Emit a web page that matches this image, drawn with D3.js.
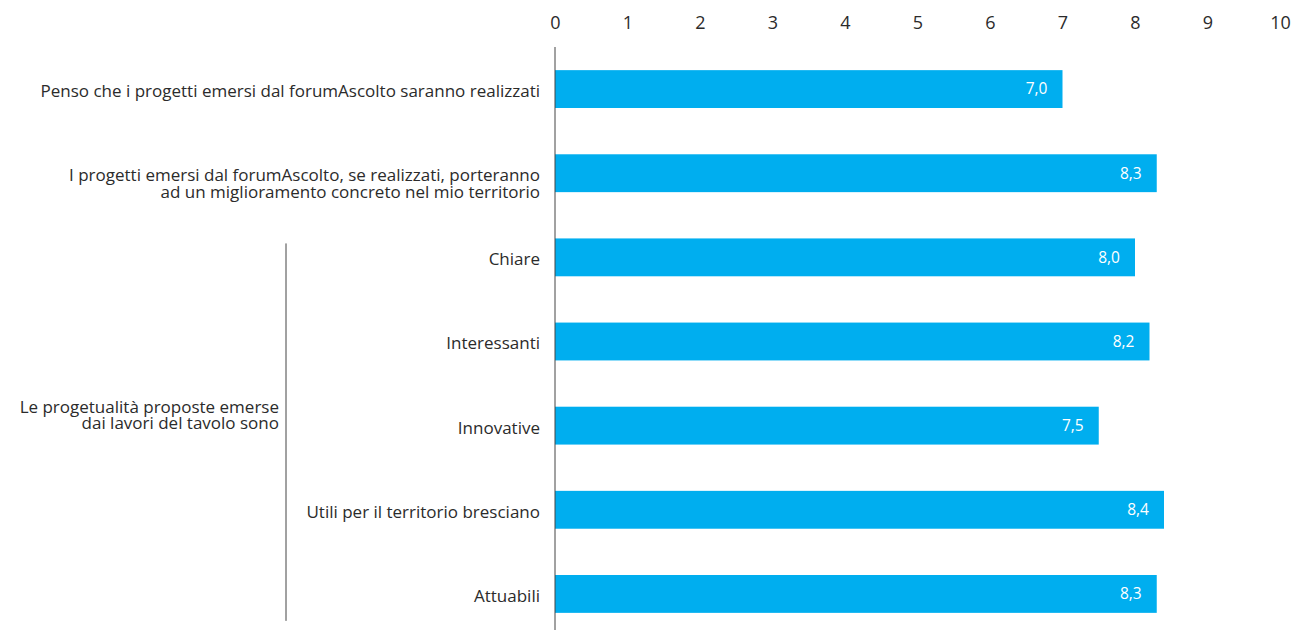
<!DOCTYPE html>
<html>
  <head>
    <title>forumAscolto</title>
    <style>
      body {
        margin: 0px;
        overflow: hidden;
        background: #fff;
      }
      text { font-family: "Open Sans", Lato, sans-serif; }
    </style>
    <script src="https://d3js.org/d3.v7.min.js"></script>
  </head>
  <body>

    <svg width="1305" height="630"></svg>

    <script>
      // data
      const categories = [
        'Penso che i progetti emersi dal forumAscolto saranno realizzati',
        'I progetti emersi dal forumAscolto, se realizzati, porteranno|ad un miglioramento concreto nel mio territorio',
        'Chiare',
        'Interessanti',
        'Innovative',
        'Utili per il territorio bresciano',
        'Attuabili'
      ];
      const values = [7.0, 8.3, 8.0, 8.2, 7.5, 8.4, 8.3];
      const tickLabels = [0, 1, 2, 3, 4, 5, 6, 7, 8, 9, 10];
      const groupLabel = ['Le progetualità proposte emerse', 'dai lavori del tavolo sono'];
      const groupMembers = ['Chiare', 'Attuabili'];

      const svg = d3.select('svg');
      const data = categories.map((c, i) => ({ cat: c, value: values[i] }));

      const xScale = d3.scaleLinear()
        .domain([0, 10])
        .range([555, 1280]);

      const yScale = d3.scaleBand()
        .domain(categories)
        .range([47, 636])
        .paddingInner(0.55)
        .paddingOuter(0.275);

      const textColor = '#2b2b2b';
      const font = '"Open Sans", Lato, sans-serif';

      // top axis labels
      const xAxis = d3.axisTop(xScale)
        .tickValues(tickLabels)
        .tickSize(0)
        .tickPadding(0)
        .tickFormat(d3.format('d'));

      const gx = svg.append('g')
        .attr('transform', 'translate(0,29)')
        .call(xAxis);
      gx.select('.domain').remove();
      gx.selectAll('text')
        .attr('font-size', 18)
        .attr('font-family', font)
        .attr('fill', textColor);

      // bars
      svg.selectAll('rect.bar').data(data)
        .enter().append('rect')
          .attr('class', 'bar')
          .attr('x', xScale(0))
          .attr('y', d => yScale(d.cat))
          .attr('width', d => xScale(d.value) - xScale(0))
          .attr('height', yScale.bandwidth())
          .attr('fill', '#00aeef');

      // value labels
      svg.selectAll('text.val').data(data)
        .enter().append('text')
          .attr('class', 'val')
          .attr('x', d => xScale(d.value) - 15)
          .attr('y', d => yScale(d.cat) + yScale.bandwidth() / 2)
          .attr('dy', '0.35em')
          .attr('text-anchor', 'end')
          .attr('font-size', 15.5)
          .attr('fill', '#fff')
          .text(d => d.value.toFixed(1).replace('.', ','));

      // vertical axis line
      svg.append('line')
        .attr('x1', xScale(0)).attr('x2', xScale(0))
        .attr('y1', 47).attr('y2', 630)
        .attr('stroke', '#444')
        .attr('stroke-width', 1);

      // category labels
      const cl = svg.selectAll('text.cat').data(data)
        .enter().append('text')
          .attr('class', 'cat')
          .attr('text-anchor', 'end')
          .attr('font-size', 17)
          .attr('fill', textColor)
          .attr('y', d => yScale(d.cat) + yScale.bandwidth() / 2 + 2);

      cl.each(function(d) {
        const lines = d.cat.split('|');
        const t = d3.select(this);
        lines.forEach((ln, i) => {
          t.append('tspan')
            .attr('x', 540)
            .attr('dy', i === 0 ? '0.35em' : '0.97em')
            .text(ln);
        });
      });

      // group bracket
      const gTop = yScale(groupMembers[0]) + 5;
      const gBottom = yScale(groupMembers[1]) + yScale.bandwidth() + 8;
      svg.append('line')
        .attr('x1', 286).attr('x2', 286)
        .attr('y1', gTop).attr('y2', gBottom)
        .attr('stroke', '#444')
        .attr('stroke-width', 1);

      const gl = svg.append('text')
        .attr('text-anchor', 'end')
        .attr('font-size', 17)
        .attr('fill', textColor)
        .attr('y', 413);
      groupLabel.forEach((ln, i) => {
        gl.append('tspan')
          .attr('x', 279)
          .attr('dy', i === 0 ? 0 : '0.97em')
          .text(ln);
      });
    </script>
  </body>
</html>
